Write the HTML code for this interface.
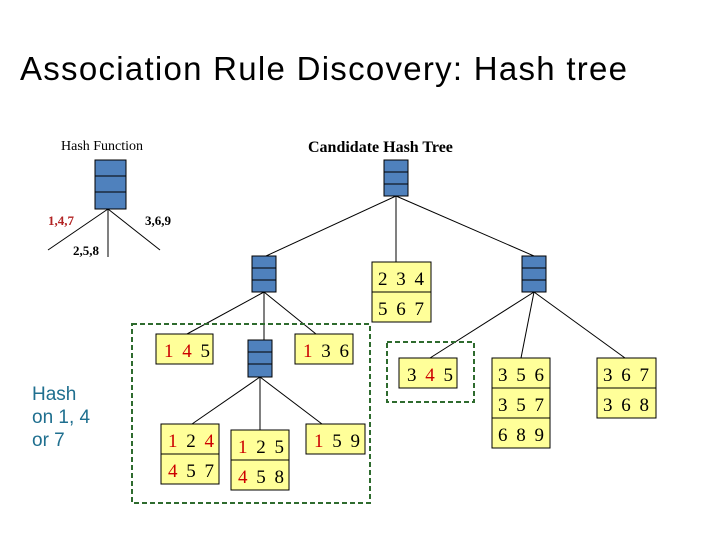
<!DOCTYPE html>
<html><head><style>body{margin:0;background:#fff}svg{display:block}</style></head><body>
<svg width="720" height="540" xmlns="http://www.w3.org/2000/svg" font-family="Liberation Serif, serif">
<rect width="720" height="540" fill="#fff"/>
<text x="20" y="80" font-family="Liberation Sans, sans-serif" font-size="33" fill="#000" textLength="607">Association Rule Discovery: Hash tree</text>
<text x="61" y="150" font-size="14">Hash Function</text>
<text x="308" y="152" font-size="16" font-weight="bold">Candidate Hash Tree</text>
<g stroke="#000" stroke-width="1">
<line x1="108" y1="209" x2="48" y2="250"/><line x1="108" y1="209" x2="108" y2="257"/><line x1="108" y1="209" x2="160" y2="250"/>
<line x1="396" y1="196" x2="266" y2="256"/><line x1="396" y1="196" x2="396" y2="262"/><line x1="396" y1="196" x2="534" y2="256"/>
<line x1="264" y1="292" x2="187" y2="334"/><line x1="264" y1="292" x2="264" y2="340"/><line x1="264" y1="292" x2="316" y2="334"/>
<line x1="534" y1="292" x2="430" y2="358"/><line x1="534" y1="292" x2="521" y2="358"/><line x1="534" y1="292" x2="625" y2="358"/>
<line x1="260" y1="377" x2="192" y2="424"/><line x1="260" y1="377" x2="260" y2="430"/><line x1="260" y1="377" x2="322" y2="424"/>
</g>
<text x="48" y="225" font-size="13" font-weight="bold" fill="#b22222">1,4,7</text>
<text x="145" y="225" font-size="13" font-weight="bold">3,6,9</text>
<text x="73" y="255" font-size="13" font-weight="bold">2,5,8</text>
<g fill="#4f81bd" stroke="#000" stroke-width="1">
<rect x="95" y="160" width="31" height="49"/><line x1="95" y1="176" x2="126" y2="176"/><line x1="95" y1="192" x2="126" y2="192"/>
<rect x="384" y="160" width="24" height="36"/><line x1="384" y1="172" x2="408" y2="172"/><line x1="384" y1="184" x2="408" y2="184"/>
<rect x="252" y="256" width="24" height="36"/><line x1="252" y1="268" x2="276" y2="268"/><line x1="252" y1="280" x2="276" y2="280"/>
<rect x="522" y="256" width="24" height="36"/><line x1="522" y1="268" x2="546" y2="268"/><line x1="522" y1="280" x2="546" y2="280"/>
<rect x="248" y="340" width="24" height="37"/><line x1="248" y1="352" x2="272" y2="352"/><line x1="248" y1="364" x2="272" y2="364"/>
</g>
<g fill="none" stroke="#2e6b2e" stroke-width="2" stroke-dasharray="5,3">
<rect x="132" y="324" width="238" height="179"/>
<rect x="387" y="342" width="87" height="60"/>
</g>
<g fill="#ffff99" stroke="#000" stroke-width="1">
<rect x="372" y="262" width="59" height="30"/><rect x="372" y="292" width="59" height="30"/>
<rect x="156" y="334" width="57" height="30"/><rect x="295" y="334" width="58" height="30"/>
<rect x="399" y="358" width="58" height="30"/>
<rect x="492" y="358" width="58" height="30"/><rect x="492" y="388" width="58" height="30"/><rect x="492" y="418" width="58" height="30"/>
<rect x="597" y="358" width="59" height="30"/><rect x="597" y="388" width="59" height="30"/>
<rect x="161" y="424" width="58" height="30"/><rect x="161" y="454" width="58" height="30"/>
<rect x="231" y="430" width="58" height="30"/><rect x="231" y="460" width="58" height="30"/>
<rect x="306" y="424" width="59" height="30"/>
</g>
<g font-size="19" letter-spacing="2">
<text x="378" y="285">2 3 4</text><text x="378" y="315">5 6 7</text>
<text x="164" y="357"><tspan fill="#c00">1</tspan> <tspan fill="#c00">4</tspan> 5</text>
<text x="303" y="357"><tspan fill="#c00">1</tspan> 3 6</text>
<text x="407" y="381">3 <tspan fill="#c00">4</tspan> 5</text>
<text x="498" y="381">3 5 6</text><text x="498" y="411">3 5 7</text><text x="498" y="441">6 8 9</text>
<text x="603" y="381">3 6 7</text><text x="603" y="411">3 6 8</text>
<text x="168" y="447"><tspan fill="#c00">1</tspan> 2 <tspan fill="#c00">4</tspan></text>
<text x="168" y="477"><tspan fill="#c00">4</tspan> 5 7</text>
<text x="238" y="453"><tspan fill="#c00">1</tspan> 2 5</text>
<text x="238" y="483"><tspan fill="#c00">4</tspan> 5 8</text>
<text x="314" y="447"><tspan fill="#c00">1</tspan> 5 9</text>
</g>
<g font-family="Liberation Sans, sans-serif" font-size="19" fill="#1f6f8f">
<text x="32" y="400">Hash</text><text x="32" y="423">on 1, 4</text><text x="32" y="446">or 7</text>
</g>
</svg>
</body></html>
